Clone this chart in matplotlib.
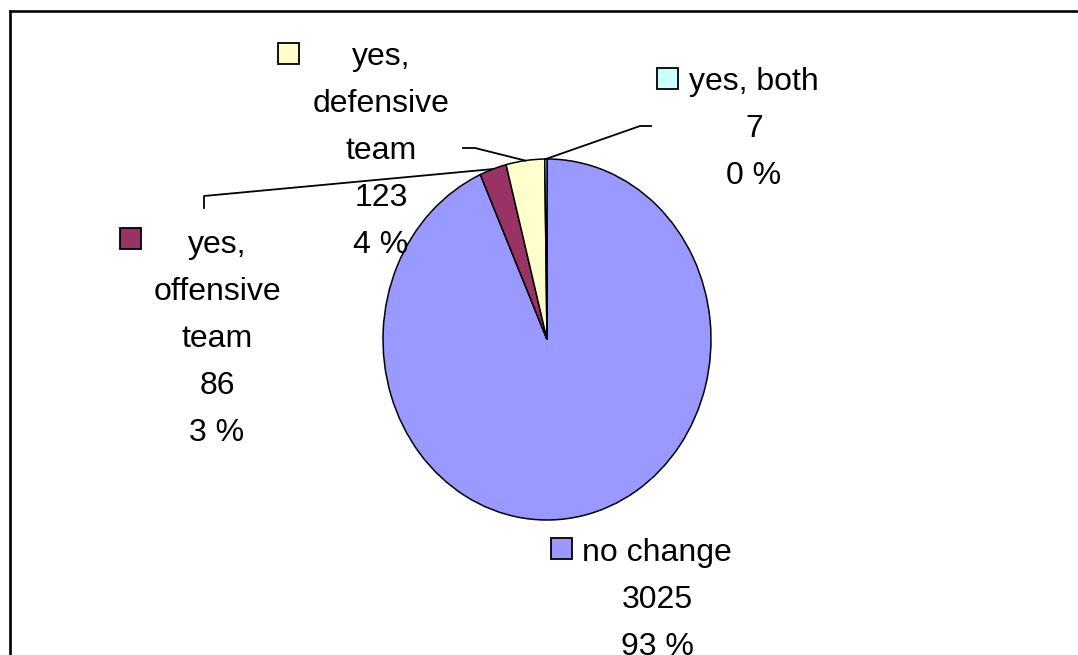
"""Pie chart: change of team after the play (Excel style)."""

import numpy as np
import matplotlib

matplotlib.use("Agg")
import matplotlib.pyplot as plt
from matplotlib.lines import Line2D
from matplotlib.patches import Rectangle


CATEGORIES = ["no change", "yes, offensive team", "yes, defensive team", "yes, both"]
COUNTS = [3025, 86, 123, 7]
PERCENT_LABELS = ["93 %", "3 %", "4 %", "0 %"]
LABEL_LINES = [
    ["no change"],
    ["yes,", "offensive", "team"],
    ["yes,", "defensive", "team"],
    ["yes, both"],
]
COLORS = ["#9999FF", "#993366", "#FFFFCC", "#CCFFFF"]

W, H = 1078, 655
FONT_PX = 32
LINE_STEP = 47

# label layout in pixels (from top-left): text centre x, first baseline y, key box left/top
LAYOUT = [
    dict(cx=657, y0=561, key=(551, 538)),
    dict(cx=217, y0=253, key=(120, 228)),
    dict(cx=381, y0=65, key=(278, 43)),
    dict(cx=754, y0=90, key=(657, 68)),
]
# leader line elbows (pixels), None for no leader
LEADERS = [
    None,
    [(204, 196), (204, 208)],
    [(475, 148), (463, 148)],
    [(640, 126), (651, 126)],
]


def fig_xy(x, y):
    return x / W, 1 - y / H


def main() -> None:
    plt.rcParams["font.family"] = ["Liberation Sans", "DejaVu Sans"]
    fig = plt.figure(figsize=(W / 100, H / 100), dpi=100)
    fig.patch.set_facecolor("white")

    # outer chart frame (only top and left visible)
    fig.add_artist(Line2D([9.5 / W, 9.5 / W], [0, 1 - 10.5 / H], transform=fig.transFigure,
                          color="black", lw=1.9, solid_capstyle="projecting"))
    fig.add_artist(Line2D([9.5 / W, 1], [1 - 10.5 / H, 1 - 10.5 / H], transform=fig.transFigure,
                          color="black", lw=1.9, solid_capstyle="projecting"))

    cx, cy, rx, ry = 547, 339.5, 164, 180.5
    ax = fig.add_axes([(cx - rx) / W, (H - cy - ry) / H, 2 * rx / W, 2 * ry / H])
    wedges, _ = ax.pie(
        COUNTS,
        colors=COLORS,
        startangle=90,
        counterclock=False,
        wedgeprops=dict(edgecolor="black", linewidth=1.1),
    )
    ax.set_xlim(-1, 1)
    ax.set_ylim(-1, 1)
    ax.set_aspect("auto")
    ax.axis("off")

    total = sum(COUNTS)
    to_fig = ax.transData + fig.transFigure.inverted()

    for i, name in enumerate(CATEGORIES):
        lay = LAYOUT[i]
        lines = LABEL_LINES[i] + [str(COUNTS[i]), PERCENT_LABELS[i]]
        for j, line in enumerate(lines):
            fx, fy = fig_xy(lay["cx"], lay["y0"] + j * LINE_STEP)
            fig.text(fx, fy, line, ha="center", va="baseline",
                     fontsize=FONT_PX * 0.72, color="black")
        kx, ky = lay["key"]
        fx, fy = fig_xy(kx, ky + 21)
        fig.add_artist(Rectangle((fx, fy), 21 / W, 21 / H, transform=fig.transFigure,
                                 facecolor=COLORS[i], edgecolor="black", lw=1.3))

        if LEADERS[i] is None:
            continue
        w = wedges[i]
        mid = np.deg2rad((w.theta1 + w.theta2) / 2)
        sx, sy = to_fig.transform((np.cos(mid), np.sin(mid)))
        pts = [(sx, sy)] + [fig_xy(px, py) for px, py in LEADERS[i]]
        xs, ys = zip(*pts)
        fig.add_artist(Line2D(xs, ys, transform=fig.transFigure, color="black", lw=1.3))

    fig.savefig("out.png", dpi=100)
    plt.close(fig)


if __name__ == "__main__":
    main()
